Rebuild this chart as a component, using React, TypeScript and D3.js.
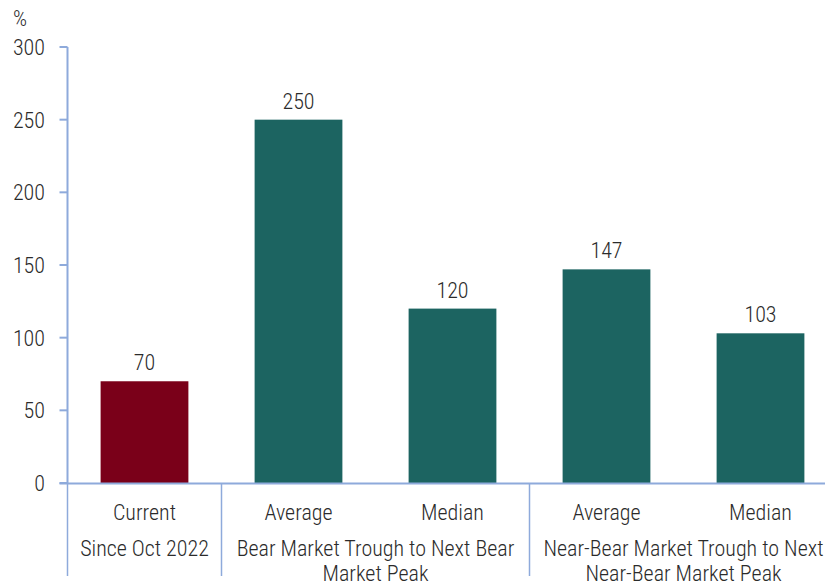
import { useEffect, useRef } from 'react';
import * as d3 from 'd3';

// data
const categories = ['c0', 'c1', 'c2', 'c3', 'c4'];
const values = [70, 250, 120, 147, 103];
const barLabels = ['Current', 'Average', 'Median', 'Average', 'Median'];
const barColors = ['#7a0019', '#1c6461', '#1c6461', '#1c6461', '#1c6461'];
const yTicks = [0, 50, 100, 150, 200, 250, 300];
const groups = [
  { from: 0, to: 0, lines: ['Since Oct 2022'] },
  { from: 1, to: 2, lines: ['Bear Market Trough to Next Bear', 'Market Peak'] },
  { from: 3, to: 4, lines: ['Near-Bear Market Trough to Next', 'Near-Bear Market Peak'] },
];

const W = 825;
const H = 584;
const FONT = '"Roboto Condensed", Roboto, sans-serif';
const FS = 22;
const TXT = '#2b2b2b';
const AXIS = '#8eaadb';

const App = () => {
  const svgRef = useRef<SVGSVGElement>(null);

  useEffect(() => {
    const svg = d3.select(svgRef.current);
    svg.selectAll('*').remove();

    const x0 = 67.5;
    const y = d3.scaleLinear().domain([0, 300]).range([483, 47]);
    const x = d3.scaleBand().domain(categories).range([x0, 837.5]).paddingInner(0.43).paddingOuter(0.215);
    const step = x.step();

    const g = svg.append('g')
      .attr('font-family', FONT)
      .attr('font-weight', 300)
      .attr('font-size', FS)
      .attr('fill', TXT);

    const label = (px: number, py: number, s: string | number, anchor = 'middle') =>
      g.append('text')
        .attr('x', px)
        .attr('y', py)
        .attr('text-anchor', anchor)
        .text(s);

    // y axis
    g.append('line')
      .attr('x1', x0).attr('x2', x0)
      .attr('y1', y(300)).attr('y2', y(0))
      .attr('stroke', AXIS).attr('stroke-width', 2);
    g.selectAll('.ytick')
      .data(yTicks)
      .enter()
      .append('line')
      .attr('x1', x0 - 8).attr('x2', x0)
      .attr('y1', d => y(d)).attr('y2', d => y(d))
      .attr('stroke', AXIS).attr('stroke-width', 2);
    yTicks.forEach(t => label(45, y(t) + 8, t, 'end'));
    label(13, 26, '%', 'start');

    // bars
    g.selectAll('.bar')
      .data(values)
      .enter()
      .append('rect')
      .attr('x', (_, i) => x(categories[i]) as number)
      .attr('y', d => y(d))
      .attr('width', x.bandwidth())
      .attr('height', d => y(0) - y(d))
      .attr('fill', (_, i) => barColors[i]);

    values.forEach((v, i) =>
      label((x(categories[i]) as number) + x.bandwidth() / 2, y(v) - 11, v));

    // x axis line
    g.append('line')
      .attr('x1', x0 - 8).attr('x2', W)
      .attr('y1', y(0) + 0.5).attr('y2', y(0) + 0.5)
      .attr('stroke', AXIS).attr('stroke-width', 2);

    // group dividers
    const dividers = [0, 1, 3];
    g.selectAll('.div')
      .data(dividers)
      .enter()
      .append('line')
      .attr('x1', d => x0 + d * step).attr('x2', d => x0 + d * step)
      .attr('y1', y(0)).attr('y2', 576)
      .attr('stroke', AXIS).attr('stroke-width', 1.5);

    // category labels
    barLabels.forEach((s, i) =>
      label((x(categories[i]) as number) + x.bandwidth() / 2, 520, s));

    // group labels
    groups.forEach(gr => {
      const cx = x0 + ((gr.from + gr.to + 1) / 2) * step;
      gr.lines.forEach((line, j) => label(cx, 556 + j * 25, line));
    });
  }, []);

  return (
    <svg
      ref={svgRef}
      width={W}
      height={H}
      style={{ position: 'absolute', left: 0, top: 0, background: '#fff' }}
    />
  );
};

export default App;
